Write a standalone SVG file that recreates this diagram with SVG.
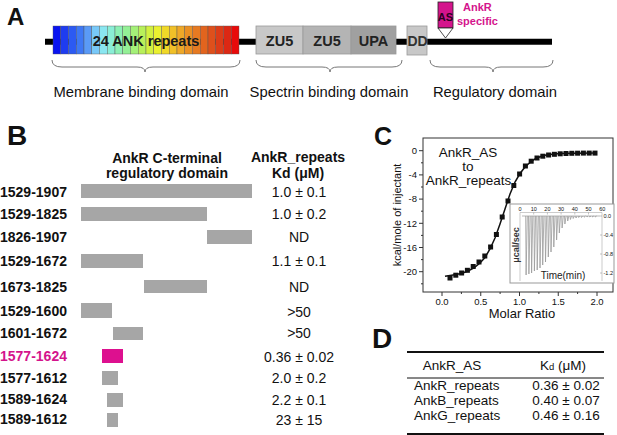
<svg xmlns="http://www.w3.org/2000/svg" width="617" height="435" viewBox="0 0 617 435">
<style>
text{font-family:"Liberation Sans",Arial,sans-serif;fill:#111}
.pl{font-weight:bold;font-size:27px}
.bx{font-weight:bold;font-size:14.5px;fill:#222;text-anchor:middle}
.dom{font-size:14.8px;text-anchor:middle}
.brace{fill:none;stroke:#777;stroke-width:1}
.rl{font-weight:bold;font-size:14px}
.hd{font-weight:bold;font-size:14px;text-anchor:middle}
.kd{font-size:14px;text-anchor:middle}
.bar{fill:#a6a6a6}
.ax{stroke:#333;stroke-width:1;fill:none}
.tk{font-size:9.5px}
.sq{fill:#111}
.sp{stroke:#9a9a9a;stroke-width:0.8;fill:none}
.it{font-size:5.5px;fill:#444}
.tb{font-size:13.5px}
</style>

<g id="panelA">
  <text class="pl" x="7" y="25" style="font-size:24px">A</text>
  <line x1="45" y1="41.8" x2="552" y2="41.8" stroke="#000" stroke-width="6"/>
  <g id="ank-repeats" stroke="#555" stroke-width="0.4">
    <rect x="53" y="26" width="7.75" height="28" fill="#0a14f0"/>
    <rect x="60.75" y="26" width="7.75" height="28" fill="#1e3cf0"/>
    <rect x="68.5" y="26" width="7.75" height="28" fill="#2c5af2"/>
    <rect x="76.25" y="26" width="7.75" height="28" fill="#3e78f4"/>
    <rect x="84" y="26" width="7.75" height="28" fill="#5a9af6"/>
    <rect x="91.75" y="26" width="7.75" height="28" fill="#78c8f8"/>
    <rect x="99.5" y="26" width="7.75" height="28" fill="#8ae6f0"/>
    <rect x="107.25" y="26" width="7.75" height="28" fill="#8aeed6"/>
    <rect x="115" y="26" width="7.75" height="28" fill="#8cf0b4"/>
    <rect x="122.75" y="26" width="7.75" height="28" fill="#94f096"/>
    <rect x="130.5" y="26" width="7.75" height="28" fill="#a4f078"/>
    <rect x="138.25" y="26" width="7.75" height="28" fill="#b8f05a"/>
    <rect x="146" y="26" width="7.75" height="28" fill="#d2f040"/>
    <rect x="153.75" y="26" width="7.75" height="28" fill="#eaf030"/>
    <rect x="161.5" y="26" width="7.75" height="28" fill="#f0d828"/>
    <rect x="169.25" y="26" width="7.75" height="28" fill="#f0c028"/>
    <rect x="177" y="26" width="7.75" height="28" fill="#eea828"/>
    <rect x="184.75" y="26" width="7.75" height="28" fill="#ea9024"/>
    <rect x="192.5" y="26" width="7.75" height="28" fill="#e67a22"/>
    <rect x="200.25" y="26" width="7.75" height="28" fill="#e2641e"/>
    <rect x="208" y="26" width="7.75" height="28" fill="#de501c"/>
    <rect x="215.75" y="26" width="7.75" height="28" fill="#dc3c18"/>
    <rect x="223.5" y="26" width="7.75" height="28" fill="#dc2814"/>
    <rect x="231.25" y="26" width="7.75" height="28" fill="#e80a0a"/>
    <text class="bx" x="146" y="46" stroke="none" style="fill:#1a1a1a">24 ANK repeats</text>
  </g>
  <g id="zu5a"><rect x="256" y="26" width="47" height="28" fill="#c8c8c8" stroke="#999" stroke-width="0.8"/><text class="bx" x="279.5" y="46">ZU5</text></g>
  <g id="zu5b"><rect x="303" y="26" width="48" height="28" fill="#b4b4b4" stroke="#999" stroke-width="0.8"/><text class="bx" x="327" y="46">ZU5</text></g>
  <g id="upa"><rect x="351" y="26" width="45" height="28" fill="#a0a0a0" stroke="#999" stroke-width="0.8"/><text class="bx" x="373.5" y="46">UPA</text></g>
  <g id="dd"><rect x="407" y="26" width="20" height="29" fill="#c8c8c8" stroke="#999" stroke-width="0.8"/><text class="bx" x="417.5" y="46" style="font-size:14px;fill:#333">DD</text></g>
  <g id="as">
    <rect x="438" y="2" width="15" height="26" fill="#d4148c" stroke="#222" stroke-width="0.8"/>
    <polygon points="438,28 453,28 445.5,38" fill="#fff" stroke="#222" stroke-width="0.8"/>
    <text x="445.5" y="21" style="font-weight:bold;font-size:11px;text-anchor:middle;fill:#2a0020">AS</text>
    <text x="463" y="11" style="font-weight:bold;font-size:11px;fill:#d4148c">AnkR</text>
    <text x="457" y="25" style="font-weight:bold;font-size:11px;fill:#d4148c">specific</text>
  </g>
  <path class="brace" d="M52,60 Q52,67 62,67 L137,67 Q145,67 145,72 Q145,67 153,67 L230,67 Q240,67 240,60"/>
  <path class="brace" d="M256,60 Q256,67 266,67 L322,67 Q330,67 330,72 Q330,67 338,67 L392,67 Q402,67 402,60"/>
  <path class="brace" d="M430,60 Q430,67 440,67 L485,67 Q493,67 493,72 Q493,67 501,67 L543,67 Q553,67 553,60"/>
  <text class="dom" x="141" y="97">Membrane binding domain</text>
  <text class="dom" x="329" y="97">Spectrin binding domain</text>
  <text class="dom" x="495" y="97">Regulatory domain</text>
</g>

<g id="panelB">
  <text class="pl" x="7" y="145" style="font-size:28px">B</text>
  <text class="hd" x="167" y="163">AnkR C-terminal</text>
  <text class="hd" x="167" y="178">regulatory domain</text>
  <text class="hd" x="298" y="162">AnkR_repeats</text>
  <text class="hd" x="298" y="178">Kd (μM)</text>
  <g id="row1"><text class="rl" x="0" y="197">1529-1907</text><rect class="bar" x="81" y="184" width="171" height="14"/><text class="kd" x="299" y="197">1.0 ± 0.1</text></g>
  <g id="row2"><text class="rl" x="0" y="219">1529-1825</text><rect class="bar" x="81" y="207" width="126" height="14"/><text class="kd" x="299" y="219">1.0 ± 0.2</text></g>
  <g id="row3"><text class="rl" x="0" y="242">1826-1907</text><rect class="bar" x="207" y="230" width="45" height="14"/><text class="kd" x="299" y="242">ND</text></g>
  <g id="row4"><text class="rl" x="0" y="266">1529-1672</text><rect class="bar" x="81" y="254" width="62" height="14"/><text class="kd" x="299" y="266">1.1 ± 0.1</text></g>
  <g id="row5"><text class="rl" x="0" y="292">1673-1825</text><rect class="bar" x="144" y="280" width="63" height="13"/><text class="kd" x="299" y="292">ND</text></g>
  <g id="row6"><text class="rl" x="0" y="316">1529-1600</text><rect class="bar" x="81" y="303" width="31" height="15"/><text class="kd" x="299" y="317">&gt;50</text></g>
  <g id="row7"><text class="rl" x="0" y="338">1601-1672</text><rect class="bar" x="113" y="327" width="30" height="13"/><text class="kd" x="299" y="338">&gt;50</text></g>
  <g id="row8"><text class="rl" x="0" y="361" style="fill:#d4148c">1577-1624</text><rect x="102" y="349" width="21" height="14" fill="#dd108f"/><text class="kd" x="299" y="362">0.36 ± 0.02</text></g>
  <g id="row9"><text class="rl" x="0" y="383">1577-1612</text><rect class="bar" x="102" y="371" width="16" height="14"/><text class="kd" x="299" y="383">2.0 ± 0.2</text></g>
  <g id="row10"><text class="rl" x="0" y="404">1589-1624</text><rect class="bar" x="107" y="393" width="16" height="14"/><text class="kd" x="299" y="405">2.2 ± 0.1</text></g>
  <g id="row11"><text class="rl" x="0" y="424">1589-1612</text><rect class="bar" x="107" y="413" width="11" height="14"/><text class="kd" x="299" y="425">23 ± 15</text></g>
</g>

<g id="panelC">
  <text class="pl" x="374" y="145" style="font-size:25px">C</text>
  <rect class="ax" x="423" y="138" width="190" height="154"/>
  <g class="ax">
    <path d="M423,150.7h-4M423,174.9h-4M423,199.1h-4M423,223.3h-4M423,247.5h-4M423,271.7h-4"/>
    <path d="M423,162.8h-2M423,187h-2M423,211.2h-2M423,235.4h-2M423,259.6h-2M423,283.8h-2"/>
    <path d="M442,292v4M480.75,292v4M519.5,292v4M558.25,292v4M597,292v4"/>
    <path d="M461.4,292v2M500.1,292v2M538.9,292v2M577.6,292v2"/>
  </g>
  <g class="tk" text-anchor="end">
    <text x="417" y="154">0</text><text x="417" y="178">-4</text><text x="417" y="202">-8</text>
    <text x="417" y="226.5">-12</text><text x="417" y="251">-16</text><text x="417" y="275">-20</text>
  </g>
  <g style="font-size:9.5px" text-anchor="middle">
    <text x="442" y="304.5">0.0</text><text x="480.75" y="304.5">0.5</text><text x="519.5" y="304.5">1.0</text>
    <text x="558.25" y="304.5">1.5</text><text x="597" y="304.5">2.0</text>
  </g>
  <text x="522" y="318" style="font-size:13px" text-anchor="middle">Molar Ratio</text>
  <text transform="translate(401,215) rotate(-90)" style="font-size:11px" text-anchor="middle">kcal/mole of injectant</text>
  <g style="font-size:13.5px" text-anchor="middle">
    <text x="468" y="157">AnkR_AS</text><text x="468" y="171">to</text><text x="468.5" y="184.5">AnkR_repeats</text>
  </g>
  <polyline fill="none" stroke="#111" stroke-width="1.5" points="445,276.2 450,275.4 456,274.6 462,273.2 468,271 474,267.8 480,263 485,257.5 490,249 495,238 500,224 505,209 510,194 515,182 520,173.5 525,167 530,162.5 535,159 540,156.8 545,155.3 550,154.4 560,153.6 575,153.2 597,153"/>
  <g class="sq">
    <rect x="447.5" y="275.5" width="5" height="5"/><rect x="453.3" y="272.7" width="5" height="5"/>
    <rect x="459.1" y="270.5" width="5" height="5"/><rect x="464.9" y="267.8" width="5" height="5"/>
    <rect x="470.7" y="264" width="5" height="5"/><rect x="476.5" y="259.5" width="5" height="5"/>
    <rect x="482.3" y="253.5" width="5" height="5"/><rect x="488.1" y="244.5" width="5" height="5"/>
    <rect x="493.9" y="232" width="5" height="5"/><rect x="499.7" y="214.5" width="5" height="5"/>
    <rect x="505.5" y="198.5" width="5" height="5"/><rect x="511.3" y="183" width="5" height="5"/>
    <rect x="517.1" y="171.5" width="5" height="5"/><rect x="522.9" y="163.5" width="5" height="5"/>
    <rect x="528.7" y="158.7" width="5" height="5"/><rect x="534.5" y="155.5" width="5" height="5"/>
    <rect x="540.3" y="153.7" width="5" height="5"/><rect x="546.1" y="152.5" width="5" height="5"/>
    <rect x="551.9" y="151.8" width="5" height="5"/><rect x="557.7" y="151.3" width="5" height="5"/>
    <rect x="563.5" y="151" width="5" height="5"/><rect x="569.3" y="150.8" width="5" height="5"/>
    <rect x="575.1" y="150.7" width="5" height="5"/><rect x="580.9" y="150.6" width="5" height="5"/>
    <rect x="586.7" y="150.6" width="5" height="5"/><rect x="592.5" y="150.6" width="5" height="5"/>
  </g>
  <g id="inset">
    <rect x="510" y="204" width="104" height="79" fill="#fff" stroke="#999" stroke-width="1"/>
    <path d="M520,281V212.5H602V281" fill="none" stroke="#aaa" stroke-width="0.6"/>
    <path d="M533.7,212.5v2M547.4,212.5v2M561.1,212.5v2M574.8,212.5v2M588.5,212.5v2M602,216h-2M602,235h-2M602,254h-2M602,273h-2" stroke="#888" stroke-width="0.5"/>
    <g class="it" text-anchor="middle">
      <text x="520" y="211">0</text><text x="533.7" y="211">10</text><text x="547.4" y="211">20</text>
      <text x="561.1" y="211">30</text><text x="574.8" y="211">40</text><text x="588.5" y="211">50</text><text x="602.2" y="211">60</text>
    </g>
    <g class="it">
      <text x="603.5" y="217.5">0.0</text><text x="603.5" y="236.5">-0.4</text><text x="603.5" y="255.5">-0.8</text><text x="603.5" y="274.5">-1.2</text>
    </g>
    <line x1="522" y1="216" x2="600" y2="216" stroke="#999" stroke-width="0.7"/>
    <path class="sp" d="M525.7,216l0.4,59l1.2,-59M528.5,216l0.4,58l1.2,-58M531.2,216l0.4,57l1.2,-57M534,216l0.4,55l1.2,-55M536.8,216l0.4,54l1.2,-54M539.6,216l0.4,52l1.2,-52M542.3,216l0.4,49l1.2,-49M545.1,216l0.4,46l1.2,-46M547.9,216l0.4,41l1.2,-41M550.6,216l0.4,36l1.2,-36M553.4,216l0.4,31l1.2,-31M556.2,216l0.4,24l1.2,-24M558.9,216l0.4,17l1.2,-17M561.7,216l0.4,12l1.2,-12M564.5,216l0.4,8l1.2,-8M567.3,216l0.4,5l1.2,-5M570,216l0.4,3.5l1.2,-3.5M572.8,216l0.4,2.5l1.2,-2.5M575.6,216l0.4,2l1.2,-2M578.3,216l0.4,1.5l1.2,-1.5M581.1,216l0.4,1.5l1.2,-1.5M583.9,216l0.4,1.2l1.2,-1.2M586.6,216l0.4,1l1.2,-1M589.4,216l0.4,1l1.2,-1M592.2,216l0.4,1l1.2,-1M595,216l0.4,1l1.2,-1"/>
    <text transform="translate(519,245) rotate(-90)" style="font-size:9px;font-weight:bold;fill:#333" text-anchor="middle">μcal/sec</text>
    <text x="563" y="279" style="font-size:10px;fill:#222" text-anchor="middle">Time(min)</text>
  </g>
</g>

<g id="panelD">
  <text class="pl" x="372" y="348" style="font-size:28px">D</text>
  <line x1="407" y1="352" x2="604" y2="352" stroke="#111" stroke-width="2"/>
  <line x1="407" y1="378" x2="604" y2="378" stroke="#111" stroke-width="1"/>
  <line x1="407" y1="434" x2="604" y2="434" stroke="#111" stroke-width="2"/>
  <text class="tb" x="452" y="370" text-anchor="middle">AnkR_AS</text>
  <text class="tb" x="563" y="370" text-anchor="middle">K<tspan style="font-size:9.5px">d</tspan> (μM)</text>
  <text class="tb" x="414" y="390">AnkR_repeats</text>
  <text class="tb" x="414" y="405">AnkB_repeats</text>
  <text class="tb" x="414" y="420">AnkG_repeats</text>
  <text class="tb" x="566" y="390" text-anchor="middle">0.36 ± 0.02</text>
  <text class="tb" x="566" y="405" text-anchor="middle">0.40 ± 0.07</text>
  <text class="tb" x="566" y="420" text-anchor="middle">0.46 ± 0.16</text>
</g>
</svg>
